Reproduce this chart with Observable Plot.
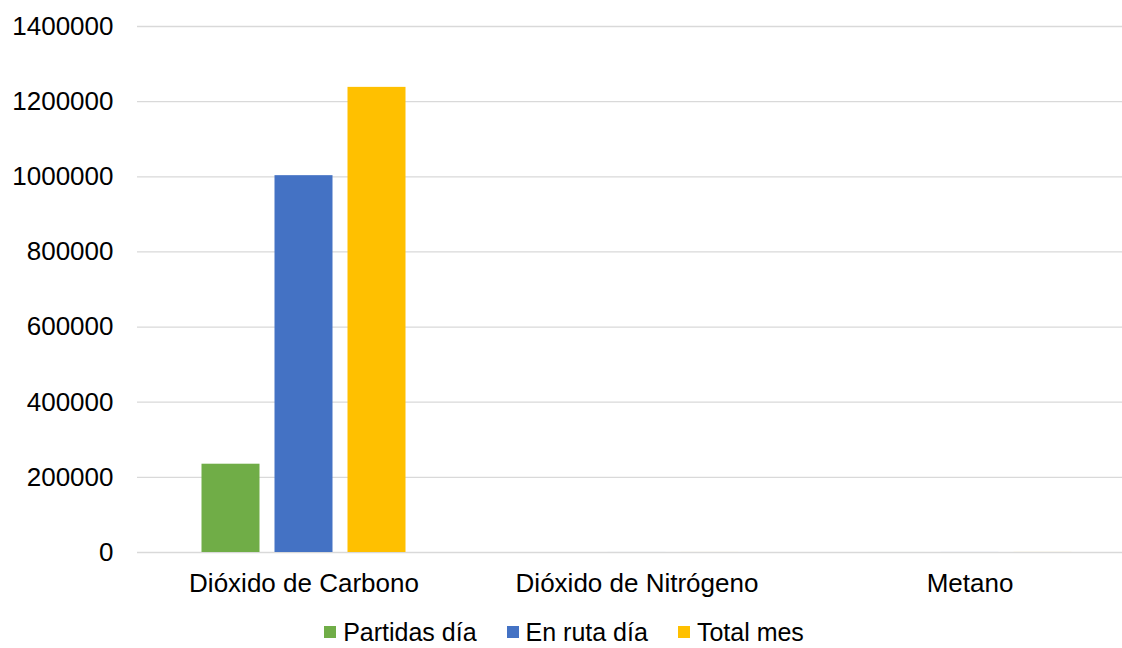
<!DOCTYPE html>
<html>
<head>
<meta charset="utf-8">
<script src="https://cdn.jsdelivr.net/npm/d3@7"></script>
<script src="https://cdn.jsdelivr.net/npm/@observablehq/plot@0.6"></script>
<style>
  html, body { margin: 0; padding: 0; background: #fff; overflow: hidden; }
  #wrap { position: relative; width: 1122px; height: 648px; overflow: hidden; }
  #legend {
    position: absolute; left: 0; top: 615px; width: 1122px; height: 34px;
    display: flex; justify-content: center; align-items: center;
    font-family: "Liberation Sans", Arial, sans-serif; font-size: 25px; color: #000;
    padding-left: 6px; box-sizing: border-box; line-height: 0.9;
  }
  .item { display: flex; align-items: center; margin: 0 15px; white-space: nowrap; }
  .swatch { width: 12px; height: 12px; margin-right: 7px; }
</style>
</head>
<body>
<div id="wrap"><div id="chart"></div><div id="legend"></div></div>
<script>
// Gases measured
const gases = ["Dióxido de Carbono", "Dióxido de Nitrógeno", "Metano"];
// Series names and their colours
const series = ["Partidas día", "En ruta día", "Total mes"];
const colors = ["#70AD47", "#4472C4", "#FFC000"];
// Values per gas, one array per series
const partidasDia = [235000, 12, 20];
const enRutaDia = [1003000, 48, 85];
const totalMes = [1238000, 60, 105];
// Y axis ticks
const yTicks = [0, 200000, 400000, 600000, 800000, 1000000, 1200000, 1400000];

const valuesBySeries = [partidasDia, enRutaDia, totalMes];
const rows = [];
gases.forEach((g, i) => {
  series.forEach((s, j) => rows.push({gas: g, series: s, value: valuesBySeries[j][i]}));
});

const chart = Plot.plot({
  width: 1136,
  height: 605,
  marginLeft: 136.5,
  marginRight: 0,
  marginTop: 26,
  marginBottom: 53,
  style: {fontFamily: "'Liberation Sans', Arial, sans-serif", fontSize: "26px", color: "#000", maxWidth: "none", background: "#fff"},
  fx: {domain: gases, padding: 0, label: null, tickSize: 0, tickPadding: 21, axis: "bottom"},
  x: {domain: series, axis: null, paddingInner: 0.209, paddingOuter: 0.864},
  y: {domain: [0, 1400000]},
  color: {domain: series, range: colors},
  marks: [
    Plot.gridY(yTicks, {stroke: "#d9d9d9", strokeOpacity: 1, strokeWidth: 1.3}),
    Plot.axisY(yTicks, {tickSize: 0, tickPadding: 24, tickFormat: d => String(d), label: null, fontSize: 26}),
    Plot.barY(rows, {fx: "gas", x: "series", y: "value", fill: "series"})
  ]
});
document.getElementById("chart").appendChild(chart);

// Legend row below the chart
const legend = document.getElementById("legend");
series.forEach((s, i) => {
  const item = document.createElement("div");
  item.className = "item";
  const sw = document.createElement("span");
  sw.className = "swatch";
  sw.style.background = colors[i];
  const label = document.createElement("span");
  label.textContent = s;
  item.appendChild(sw);
  item.appendChild(label);
  legend.appendChild(item);
});
</script>
</body>
</html>
